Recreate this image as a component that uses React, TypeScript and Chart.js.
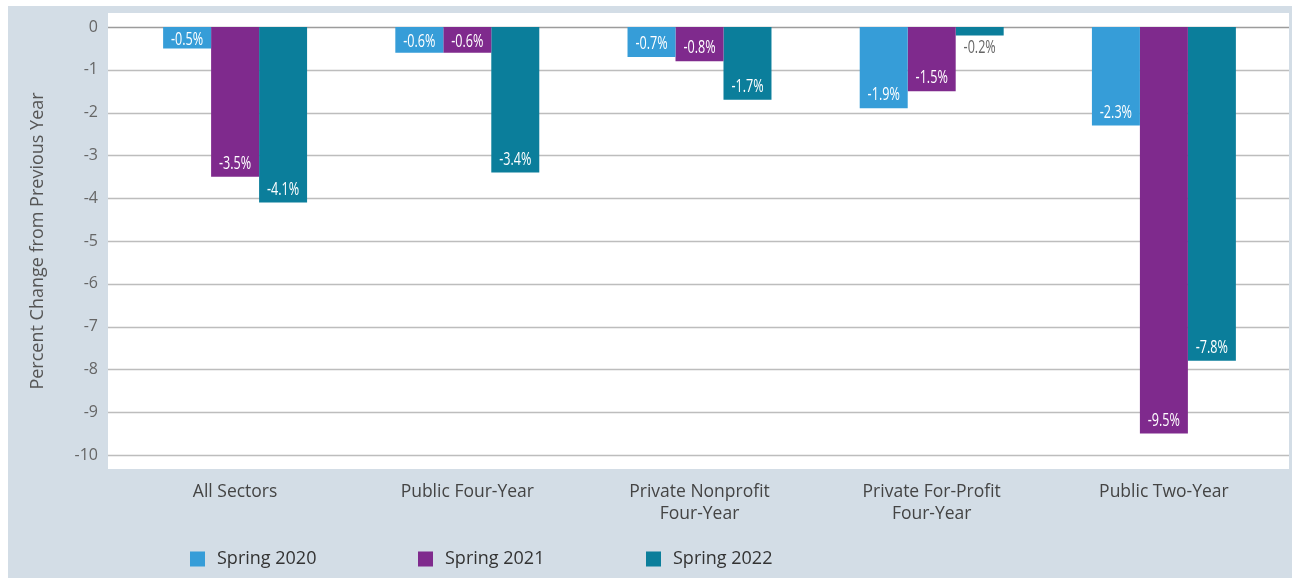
import React, { useEffect, useRef } from "react";
import { Chart, registerables } from "chart.js";

Chart.register(...registerables);

const categories: (string | string[])[] = [
  "All Sectors",
  "Public Four-Year",
  ["Private Nonprofit", "Four-Year"],
  ["Private For-Profit", "Four-Year"],
  "Public Two-Year",
];
const seriesNames = ["Spring 2020", "Spring 2021", "Spring 2022"];
const spring2020 = [-0.5, -0.6, -0.7, -1.9, -2.3];
const spring2021 = [-3.5, -0.6, -0.8, -1.5, -9.5];
const spring2022 = [-4.1, -3.4, -1.7, -0.2, -7.8];
const seriesColors = ["#369dd8", "#7f2a8d", "#0b7e9b"];
const yTicks = [0, -1, -2, -3, -4, -5, -6, -7, -8, -9, -10];
const yTitle = "Percent Change from Previous Year";

const UI_FONT = "'Open Sans', 'Noto Sans', 'DejaVu Sans', sans-serif";

const panelPlugin = {
  id: "panel",
  beforeDraw(chart: any) {
    const { ctx, chartArea, width, height } = chart;
    ctx.save();
    ctx.fillStyle = "#d3dde6";
    ctx.fillRect(0, 0, width, height);
    ctx.fillStyle = "#ffffff";
    ctx.fillRect(chartArea.left - 11, chartArea.top - 14, chartArea.right - chartArea.left + 20, chartArea.bottom - chartArea.top + 28);
    ctx.restore();
  },
  beforeDatasetsDraw(chart: any) {
    const { ctx, chartArea } = chart;
    const y = chart.scales.y;
    ctx.save();
    for (const t of y.ticks) {
      const py = Math.round(y.getPixelForValue(t.value)) + 0.5;
      ctx.strokeStyle = t.value === 0 ? "#9c9c9c" : "#bdbdbd";
      ctx.lineWidth = 1.5;
      ctx.beginPath();
      ctx.moveTo(chartArea.left - 11, py);
      ctx.lineTo(chartArea.right + 9, py);
      ctx.stroke();
    }
    ctx.restore();
  },
  afterDatasetsDraw(chart: any) {
    const { ctx } = chart;
    const y = chart.scales.y;
    const base = y.getPixelForValue(0);
    chart.data.datasets.forEach((ds: any, di: number) => {
      const meta = chart.getDatasetMeta(di);
      meta.data.forEach((el: any, i: number) => {
        const v = ds.data[i];
        const text = `${v.toFixed(1)}%`;
        const end = el.y;
        const h = end - base;
        let cy: number;
        let color = "#ffffff";
        if (h >= 28) cy = end - 13;
        else if (h >= 16) cy = (base + end) / 2 + 2;
        else {
          cy = end + 12;
          color = "#666666";
        }
        ctx.save();
        ctx.translate(el.x, cy);
        ctx.scale(0.7, 1);
        ctx.font = `18px ${UI_FONT}`;
        ctx.textAlign = "center";
        ctx.textBaseline = "middle";
        ctx.fillStyle = color;
        ctx.fillText(text, 0, 0);
        ctx.restore();
      });
    });
  },
  afterDraw(chart: any) {
    const { ctx } = chart;
    const xs = [182, 410, 638];
    const cy = 553;
    ctx.save();
    ctx.font = `18px ${UI_FONT}`;
    ctx.textBaseline = "middle";
    ctx.textAlign = "left";
    chart.data.datasets.forEach((ds: any, i: number) => {
      ctx.fillStyle = ds.backgroundColor;
      ctx.fillRect(xs[i], cy - 7.5, 15, 15);
      ctx.fillStyle = "#333333";
      ctx.fillText(ds.label, xs[i] + 27, cy);
    });
    ctx.restore();
  },
};

export default function App() {
  const ref = useRef<HTMLCanvasElement | null>(null);
  useEffect(() => {
    if (!ref.current) return;
    const seriesValues = [spring2020, spring2021, spring2022];
    const chart = new Chart(ref.current, {
      type: "bar",
      data: {
        labels: categories,
        datasets: seriesNames.map((name, i) => ({
          label: name,
          data: seriesValues[i],
          backgroundColor: seriesColors[i],
          borderWidth: 0,
          categoryPercentage: 0.62,
          barPercentage: 1,
        })),
      },
      options: {
        animation: false,
        responsive: false,
        maintainAspectRatio: false,
        layout: { padding: { top: 21, right: 12, left: 0, bottom: 0 } },
        plugins: {
          legend: { display: false },
          tooltip: { enabled: false },
        },
        scales: {
          x: {
            grid: { display: false, drawTicks: false },
            border: { display: false },
            ticks: {
              padding: 26,
              color: "#444444",
              font: { family: UI_FONT, size: 17.5, lineHeight: 1.26 },
              maxRotation: 0,
              autoSkip: false,
            },
            afterFit(scale: any) {
              scale.height = 123;
            },
          },
          y: {
            min: -10,
            max: 0,
            afterBuildTicks(scale: any) {
              scale.ticks = yTicks.map((v) => ({ value: v }));
            },
            grid: { display: false, drawTicks: false },
            border: { display: false },
            ticks: {
              padding: 21,
              color: "#666666",
              font: { family: UI_FONT, size: 16 },
              callback: (v: any) => `${v}`,
            },
            title: {
              display: true,
              text: yTitle,
              color: "#555555",
              font: { family: UI_FONT, size: 18 },
              padding: { top: 19, bottom: 0 },
            },
            afterFit(scale: any) {
              scale.width = 111;
              scale.paddingTop = 0;
              scale.paddingBottom = 0;
            },
          },
        },
      },
      plugins: [panelPlugin],
    });
    return () => chart.destroy();
  }, []);
  return (
    <div style={{ position: "absolute", left: 8, top: 6, width: 1284, height: 572 }}>
      <canvas ref={ref} width={1284} height={572} style={{ display: "block" }} />
    </div>
  );
}
